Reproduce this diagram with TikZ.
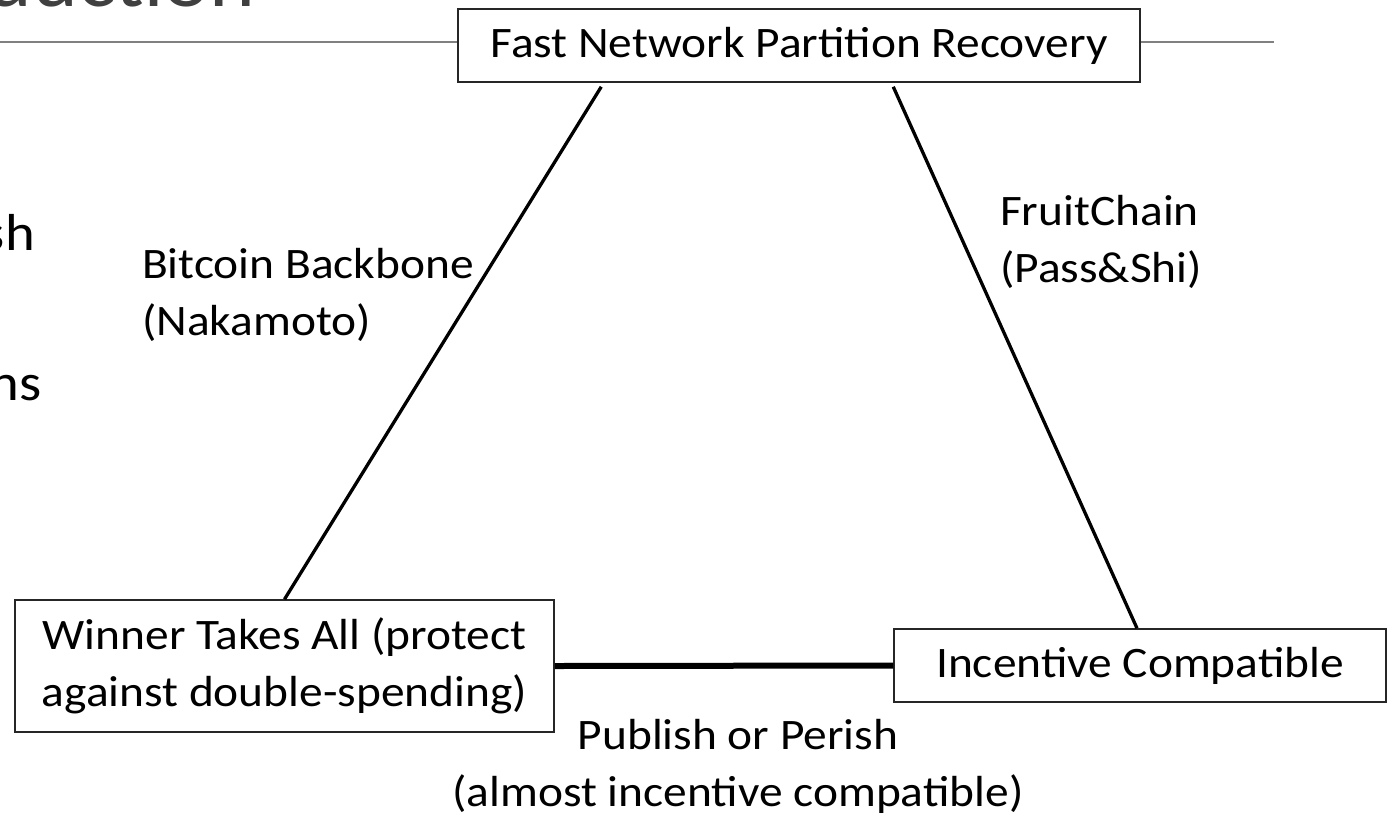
\documentclass[tikz,border=0pt]{standalone}
\usepackage{fontspec}
\setmainfont[FakeStretch=1.09]{Carlito}
\begin{document}
\begin{tikzpicture}[x=1pt,y=-1pt,
  txt/.style={font=\fontsize{43.5}{57}\selectfont},
  box/.style={txt, draw=black!85, line width=1.5pt, fill=white, inner sep=0pt, align=center},
  lbl/.style={txt, inner sep=0pt},
  edge/.style={line width=3.3pt},
  heavyedge/.style={line width=6pt},
  rule/.style={draw=black!50, line width=1.3pt},
  frag/.style={inner sep=0pt, font=\fontsize{52}{60}\selectfont},
  titlefrag/.style={inner sep=0pt, text=black!75, font=\fontsize{80}{90}\selectfont}]
\useasboundingbox (0,0) rectangle (1389,815);
\clip (0,0) rectangle (1389,815);
\fill[white] (0,0) rectangle (1389,815);
% slide fragments
\node[titlefrag, anchor=base east] (title) at (256,6) {oduction};
\coordinate (ruleL) at (0,42);
\coordinate (ruleR) at (1274,42);
\draw[rule] (ruleL) -- (ruleR);
\node[frag, anchor=base east] (fragA) at (35,250) {sh};
\node[frag, anchor=base east] (fragB) at (42,400) {ns};
% boxes
\node[box, minimum width=682pt, minimum height=73pt] (top) at (799,45.5) {Fast Network Partition Recovery};
\node[box, minimum width=539pt, minimum height=132pt] (wta) at (284.5,666) {Winner Takes All (protect\\against double-spending)};
\node[box, minimum width=492pt, minimum height=73pt] (ic) at (1140,665.5) {Incentive Compatible};
% connectors
\draw[edge] ([xshift=144pt,yshift=-4pt]top.south west) -- (wta.north);
\draw[edge] ([xshift=436pt,yshift=-4pt]top.south west) -- ([xshift=-3pt]ic.north);
\draw[heavyedge] (wta.east) -- (ic.west);
% labels (anchor base = baseline of the last line)
\node[lbl, anchor=base west, align=left] (bb) at (142,335) {Bitcoin Backbone\\(Nakamoto)};
\node[lbl, anchor=base west, align=left] (fc) at (1000,282) {FruitChain\\(Pass\&Shi)};
\node[lbl, anchor=base, align=center] (pp) at (738,806) {Publish or Perish\\(almost incentive compatible)};
\end{tikzpicture}
\end{document}
